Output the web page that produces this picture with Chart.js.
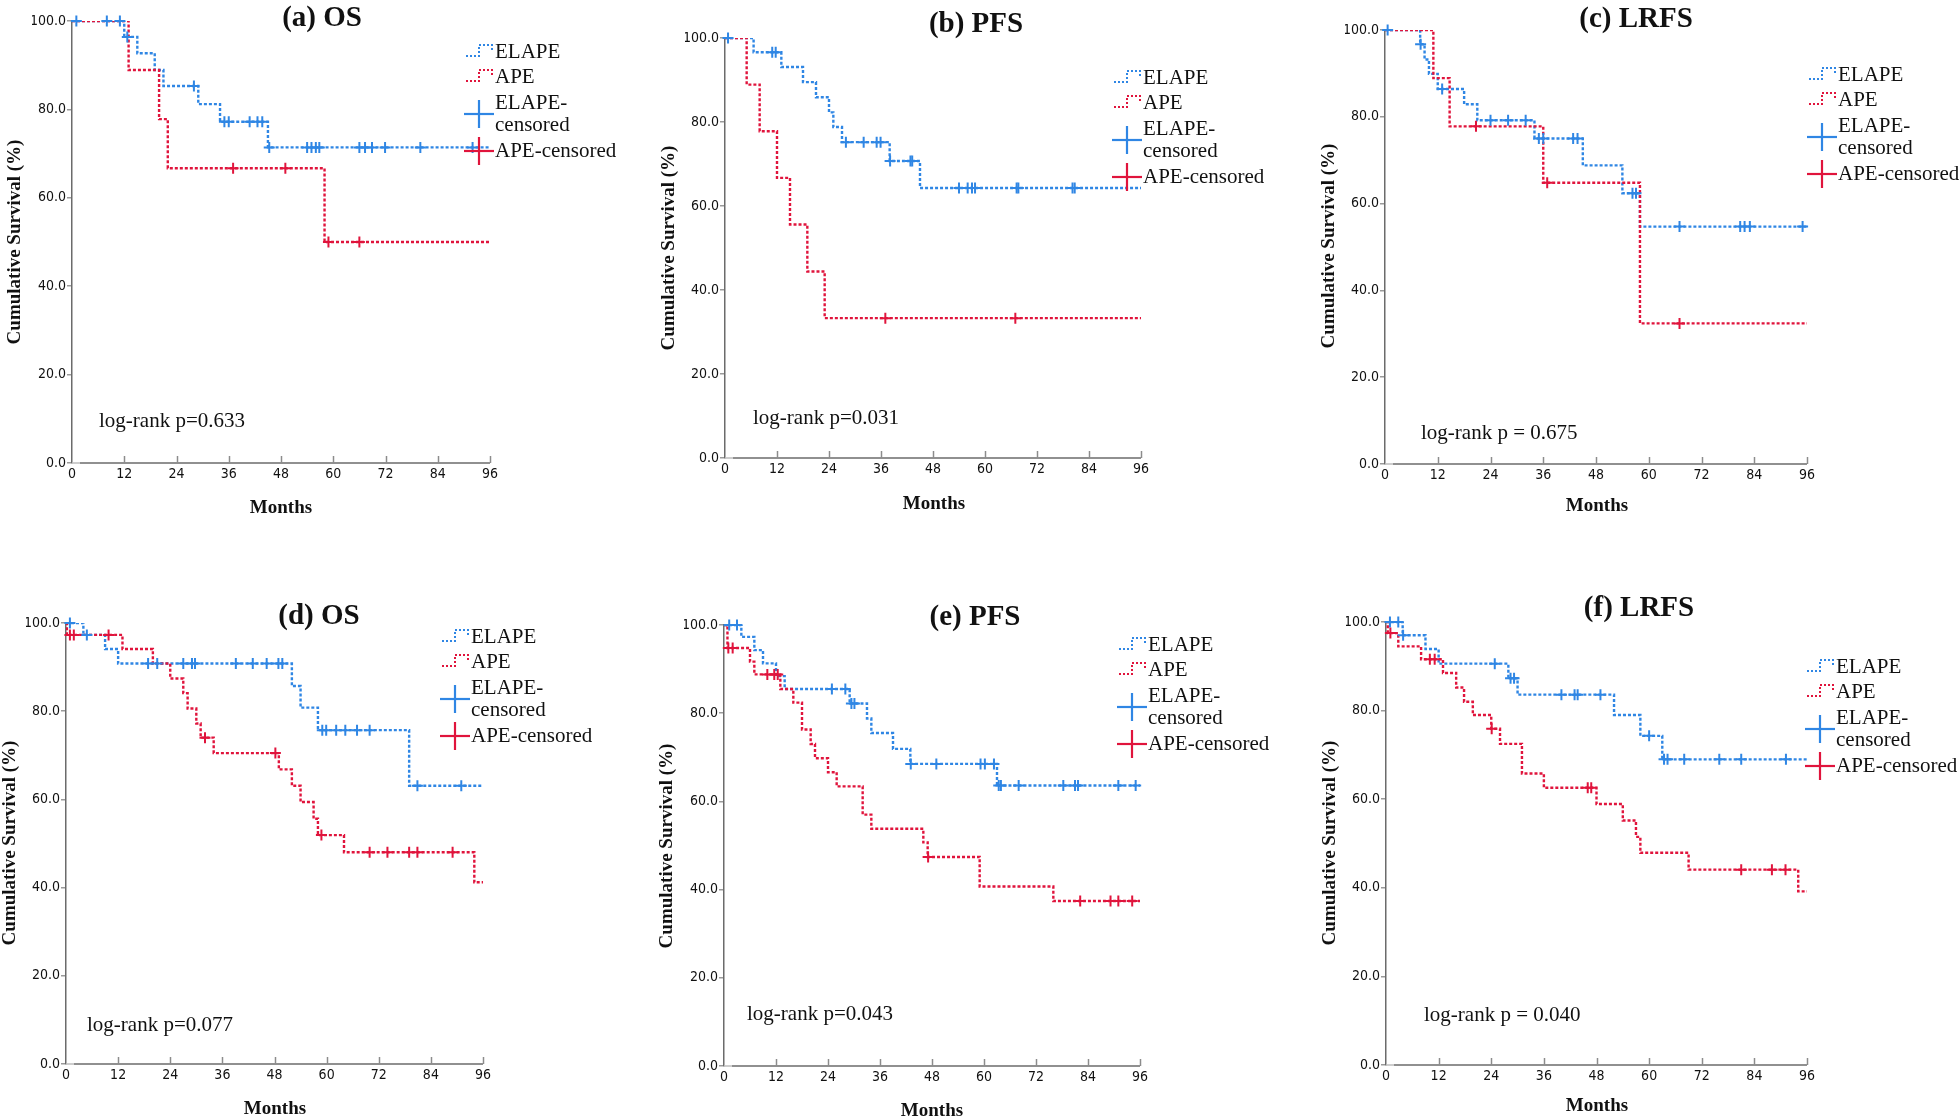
<!DOCTYPE html>
<html>
<head>
<meta charset="utf-8">
<title>ELAPE vs APE - Kaplan-Meier</title>
<script src="https://cdn.jsdelivr.net/npm/chart.js@4.4.1/dist/chart.umd.min.js"></script>
<style>
  html, body { margin: 0; padding: 0; background: #fff; }
  body { position: relative; width: 1960px; height: 1120px; overflow: hidden; }
  canvas { position: absolute; }
</style>
</head>
<body>
<canvas id="panelA"></canvas>
<canvas id="panelB"></canvas>
<canvas id="panelC"></canvas>
<canvas id="panelD"></canvas>
<canvas id="panelE"></canvas>
<canvas id="panelF"></canvas>
<script>
// axis ticks
var monthTicks = [0, 12, 24, 36, 48, 60, 72, 84, 96];
var survTicks = [0, 20, 40, 60, 80, 100];
var lastMonth = 96;

// (a) OS, top row
var aElapeTime = [12, 15, 19, 21, 29, 34, 45];
var aElapeSurv = [96.4, 92.7, 88.9, 85.3, 81.2, 77.2, 71.4];
var aElapeCens = [1, 8, 11, 12.7, 28, 35, 36, 40.8, 42.6, 43.7, 45.3, 54, 55, 56, 56.8, 66, 67.3, 68.9, 71.9, 80, 92];
var aApeTime = [13, 20, 22, 58];
var aApeSurv = [88.9, 77.8, 66.7, 50.0];
var aApeCens = [37, 49, 58.9, 66];

// (b) PFS
var bElapeTime = [6.6, 13, 18, 21, 24, 25, 27, 38, 45];
var bElapeSurv = [96.6, 93.1, 89.5, 85.9, 82.3, 78.8, 75.2, 70.7, 64.3];
var bElapeCens = [0.7, 10.9, 11.7, 27.9, 32, 35, 35.9, 38.1, 42.8, 43.2, 54, 56, 57, 57.7, 67.3, 67.7, 80.2, 80.7];
var bApeTime = [5, 8, 12, 15, 19, 23];
var bApeSurv = [88.9, 77.8, 66.7, 55.6, 44.4, 33.3];
var bApeCens = [37, 67];

// (c) LRFS
var cElapeTime = [8, 9, 10, 12, 18, 21, 34, 45, 54, 58];
var cElapeSurv = [96.7, 93.2, 89.9, 86.4, 82.9, 79.2, 75.0, 68.8, 62.4, 54.7];
var cElapeCens = [0.6, 8.1, 13, 24, 28, 32, 35, 36, 42.8, 43.8, 56.3, 57.1, 67, 80.8, 81.8, 83, 95];
var cApeTime = [11, 14.7, 36, 58];
var cApeSurv = [88.9, 77.8, 64.8, 32.4];
var cApeCens = [20.7, 36.9, 67];

// (d) OS, bottom row
var dElapeTime = [4, 9, 12, 52, 54, 58, 79];
var dElapeSurv = [97.3, 94.1, 90.8, 85.7, 80.8, 75.7, 63.1];
var dElapeCens = [0.9, 4.8, 18.9, 21, 27, 29, 29.7, 39.1, 43, 46.2, 48.9, 49.8, 59, 59.9, 62.2, 64.3, 67, 69.9, 80.9, 91];
var dApeTime = [0.2, 13, 20, 24, 27, 28, 30, 31, 34, 49, 52, 54, 57, 58, 64, 94];
var dApeSurv = [97.3, 94.1, 90.8, 87.4, 84.1, 80.6, 77.2, 74.0, 70.5, 66.8, 63.1, 59.4, 55.6, 51.9, 48.0, 41.2];
var dApeCens = [0.9, 1.8, 9.8, 32, 48.2, 58.8, 69.9, 74, 79, 80.9, 89];

// (e) PFS
var eElapeTime = [4, 7, 9, 12, 14, 29, 33, 34, 39, 43, 63];
var eElapeSurv = [97.3, 94.3, 91.3, 88.4, 85.5, 82.2, 78.8, 75.5, 71.9, 68.5, 63.6];
var eElapeCens = [1.2, 3, 24.9, 28, 29.4, 30.1, 43.1, 49, 59.2, 60.2, 62.3, 63.4, 63.9, 68, 78.3, 81, 81.7, 91, 95];
var eApeTime = [0.8, 6, 7, 13, 16, 18, 20, 21, 24, 26, 32, 34, 46, 47, 59, 76];
var eApeSurv = [94.8, 91.7, 88.8, 85.5, 82.4, 76.3, 73.0, 69.8, 66.6, 63.4, 57.0, 53.8, 50.7, 47.4, 40.7, 37.4];
var eApeCens = [1, 2, 10, 11.6, 12.4, 47.1, 82.2, 89.2, 91, 94.2];

// (f) LRFS
var fElapeTime = [3.8, 9, 12, 27.9, 30, 52, 58, 63];
var fElapeSurv = [97.0, 93.9, 90.6, 87.3, 83.6, 79.0, 74.3, 69.0];
var fElapeCens = [0.9, 2.8, 3.9, 24.8, 28.4, 29.2, 40, 43, 43.7, 48.9, 60, 63.4, 64.2, 68, 76, 81, 91.2];
var fApeTime = [0.4, 2.8, 8, 13, 16, 17.8, 19.8, 24, 26, 31, 36, 48, 54, 57, 58, 69, 94];
var fApeSurv = [97.5, 94.5, 91.6, 88.5, 85.2, 82.0, 79.0, 75.9, 72.5, 65.8, 62.6, 58.9, 55.2, 51.5, 47.9, 44.1, 39.2];
var fApeCens = [1, 10, 11.1, 24.1, 46, 46.8, 81, 88, 91.1];

var blue = '#2f86e4';
var red = '#e0143c';
var serif = '"Liberation Serif", "Times New Roman", serif';
var narrow = '"Liberation Sans Narrow", "DejaVu Sans Condensed", "Liberation Sans", sans-serif';

// layout of each panel (page pixels)
var panels = [
  { id: 'panelA', title: '(a) OS', pval: 'log-rank p=0.633',
    elape: [aElapeTime, aElapeSurv, aElapeCens], ape: [aApeTime, aApeSurv, aApeCens],
    box: [0, 0, 640, 550], plot: [72, 21, 490, 463],
    titleAt: [322, 19], legendAt: [495, 52], pAt: [99, 421], yTitleAt: [15, 242], xTitleAt: [281, 508] },
  { id: 'panelB', title: '(b) PFS', pval: 'log-rank p=0.031',
    elape: [bElapeTime, bElapeSurv, bElapeCens], ape: [bApeTime, bApeSurv, bApeCens],
    box: [640, 0, 650, 550], plot: [725, 38, 1141, 458],
    titleAt: [976, 25], legendAt: [1143, 78], pAt: [753, 418], yTitleAt: [669, 248], xTitleAt: [934, 504] },
  { id: 'panelC', title: '(c) LRFS', pval: 'log-rank p = 0.675',
    elape: [cElapeTime, cElapeSurv, cElapeCens], ape: [cApeTime, cApeSurv, cApeCens],
    box: [1290, 0, 670, 550], plot: [1385, 30, 1807, 464],
    titleAt: [1636, 20], legendAt: [1838, 75], pAt: [1421, 433], yTitleAt: [1329, 246], xTitleAt: [1597, 506] },
  { id: 'panelD', title: '(d) OS', pval: 'log-rank p=0.077',
    elape: [dElapeTime, dElapeSurv, dElapeCens], ape: [dApeTime, dApeSurv, dApeCens],
    box: [0, 550, 640, 570], plot: [66, 623, 483, 1064],
    titleAt: [319, 617], legendAt: [471, 637], pAt: [87, 1025], yTitleAt: [10, 843], xTitleAt: [275, 1109] },
  { id: 'panelE', title: '(e) PFS', pval: 'log-rank p=0.043',
    elape: [eElapeTime, eElapeSurv, eElapeCens], ape: [eApeTime, eApeSurv, eApeCens],
    box: [640, 550, 650, 570], plot: [724, 625, 1140, 1066],
    titleAt: [975, 618], legendAt: [1148, 645], pAt: [747, 1014], yTitleAt: [667, 846], xTitleAt: [932, 1111] },
  { id: 'panelF', title: '(f) LRFS', pval: 'log-rank p = 0.040',
    elape: [fElapeTime, fElapeSurv, fElapeCens], ape: [fApeTime, fApeSurv, fApeCens],
    box: [1290, 550, 670, 570], plot: [1386, 622, 1807, 1065],
    titleAt: [1639, 609], legendAt: [1836, 667], pAt: [1424, 1015], yTitleAt: [1330, 843], xTitleAt: [1597, 1106] }
];

var Y_AXIS_W = 40, X_AXIS_H = 22;

function stepPoints(times, surv) {
  var pts = [{ x: 0, y: 100 }];
  times.forEach(function (t, i) { pts.push({ x: t, y: surv[i] }); });
  pts.push({ x: lastMonth, y: surv[surv.length - 1] });
  return pts;
}

function survAt(times, surv, t) {
  var s = 100;
  for (var i = 0; i < times.length; i++) if (times[i] <= t) s = surv[i];
  return s;
}

function censPoints(times, surv, cens) {
  return cens.map(function (t) { return { x: t, y: survAt(times, surv, t) }; });
}

function seg(ctx, x1, y1, x2, y2) {
  ctx.beginPath(); ctx.moveTo(x1, y1); ctx.lineTo(x2, y2); ctx.stroke();
}

function stepIcon(ctx, x, y, color) {
  ctx.save();
  ctx.strokeStyle = color; ctx.lineWidth = 2; ctx.setLineDash([2, 2]);
  ctx.beginPath();
  ctx.moveTo(x - 29, y + 4); ctx.lineTo(x - 16, y + 4); ctx.lineTo(x - 16, y - 7);
  ctx.lineTo(x - 3, y - 7); ctx.lineTo(x - 3, y - 1);
  ctx.stroke();
  ctx.restore();
}

function bigCross(ctx, x, y, color) {
  ctx.save();
  ctx.strokeStyle = color; ctx.lineWidth = 2.2;
  seg(ctx, x - 15, y, x + 15, y);
  seg(ctx, x, y - 14, x, y + 14);
  ctx.restore();
}

var kmDecor = {
  id: 'kmDecor',
  afterDraw: function (chart, args, opts) {
    var p = opts.panel, ctx = chart.ctx, ca = chart.chartArea, xs = chart.scales.x;
    var ox = p.box[0], oy = p.box[1];
    ctx.save();
    // x axis line, starting light like the SPSS export
    ctx.lineWidth = 1.5;
    ctx.strokeStyle = '#bdbdbd';
    seg(ctx, ca.left, ca.bottom, ca.left + 8, ca.bottom);
    ctx.strokeStyle = '#6b6b6b';
    seg(ctx, ca.left + 8, ca.bottom, ca.right, ca.bottom);
    ctx.strokeStyle = '#8c8c8c';
    monthTicks.slice(1).forEach(function (m) {
      var px = Math.round(xs.getPixelForValue(m)) + 0.5;
      seg(ctx, px, ca.bottom, px, ca.bottom - 7);
    });

    ctx.fillStyle = '#111';
    ctx.textBaseline = 'middle';
    // title
    ctx.textAlign = 'center';
    ctx.font = 'bold 29px ' + serif;
    ctx.fillText(p.title, p.titleAt[0] - ox, p.titleAt[1] - oy);
    // x title
    ctx.font = 'bold 19px ' + serif;
    ctx.fillText('Months', p.xTitleAt[0] - ox, p.xTitleAt[1] - oy);
    // y title
    ctx.save();
    ctx.translate(p.yTitleAt[0] - ox, p.yTitleAt[1] - oy);
    ctx.rotate(-Math.PI / 2);
    ctx.fillText('Cumulative Survival (%)', 0, 0);
    ctx.restore();
    // log-rank
    ctx.textAlign = 'left';
    ctx.font = '21px ' + serif;
    ctx.fillText(p.pval, p.pAt[0] - ox, p.pAt[1] - oy);
    // legend
    var lx = p.legendAt[0] - ox, ly = p.legendAt[1] - oy;
    stepIcon(ctx, lx, ly, blue);
    stepIcon(ctx, lx, ly + 25, red);
    bigCross(ctx, lx - 16, ly + 62, blue);
    bigCross(ctx, lx - 16, ly + 99, red);
    ctx.fillStyle = '#111';
    ctx.fillText('ELAPE', lx, ly);
    ctx.fillText('APE', lx, ly + 25);
    ctx.fillText('ELAPE-', lx, ly + 51);
    ctx.fillText('censored', lx, ly + 73);
    ctx.fillText('APE-censored', lx, ly + 99);
    ctx.restore();
  }
};

function makeChart(p) {
  var cv = document.getElementById(p.id);
  cv.width = p.box[2]; cv.height = p.box[3];
  cv.style.left = p.box[0] + 'px'; cv.style.top = p.box[1] + 'px';
  cv.style.width = p.box[2] + 'px'; cv.style.height = p.box[3] + 'px';

  var pad = {
    left: p.plot[0] - p.box[0] - Y_AXIS_W,
    top: p.plot[1] - p.box[1],
    right: p.box[0] + p.box[2] - p.plot[2],
    bottom: p.box[1] + p.box[3] - p.plot[3] - X_AXIS_H
  };

  var lineStyle = { stepped: true, pointRadius: 0, borderWidth: 2.4, borderDash: [3, 2], fill: false, showLine: true };
  var crossStyle = { showLine: false, pointStyle: 'cross', pointRadius: 5.5, pointBorderWidth: 2, clip: false };

  return new Chart(cv, {
    type: 'scatter',
    data: {
      datasets: [
        Object.assign({ label: 'APE-censored', data: censPoints(p.ape[0], p.ape[1], p.ape[2]), borderColor: red, backgroundColor: red }, crossStyle),
        Object.assign({ label: 'ELAPE-censored', data: censPoints(p.elape[0], p.elape[1], p.elape[2]), borderColor: blue, backgroundColor: blue }, crossStyle),
        Object.assign({ label: 'APE', data: stepPoints(p.ape[0], p.ape[1]), borderColor: red }, lineStyle),
        Object.assign({ label: 'ELAPE', data: stepPoints(p.elape[0], p.elape[1]), borderColor: blue }, lineStyle)
      ]
    },
    options: {
      responsive: false,
      animation: false,
      devicePixelRatio: 1,
      layout: { padding: pad },
      plugins: { legend: { display: false }, tooltip: { enabled: false }, kmDecor: { panel: p } },
      scales: {
        x: {
          type: 'linear', min: 0, max: lastMonth,
          afterBuildTicks: function (s) { s.ticks = monthTicks.map(function (v) { return { value: v }; }); },
          afterFit: function (s) { s.height = X_AXIS_H; s.paddingLeft = 0; s.paddingRight = 0; },
          grid: { display: false, drawTicks: false },
          border: { display: false },
          ticks: { padding: 3, color: '#111', maxRotation: 0, font: { family: narrow, size: 14 } }
        },
        y: {
          min: 0, max: 100,
          afterBuildTicks: function (s) { s.ticks = survTicks.map(function (v) { return { value: v }; }); },
          afterFit: function (s) { s.width = Y_AXIS_W; s.paddingTop = 0; s.paddingBottom = 0; },
          grid: { drawOnChartArea: false, drawTicks: true, tickLength: 5, color: '#9a9a9a', lineWidth: 1.5 },
          border: { display: true, color: '#6b6b6b', width: 1.5 },
          ticks: { padding: 1, color: '#111', font: { family: narrow, size: 14 },
            callback: function (v) { return Number(v).toFixed(1); } }
        }
      }
    },
    plugins: [kmDecor]
  });
}

panels.forEach(makeChart);
</script>
</body>
</html>
